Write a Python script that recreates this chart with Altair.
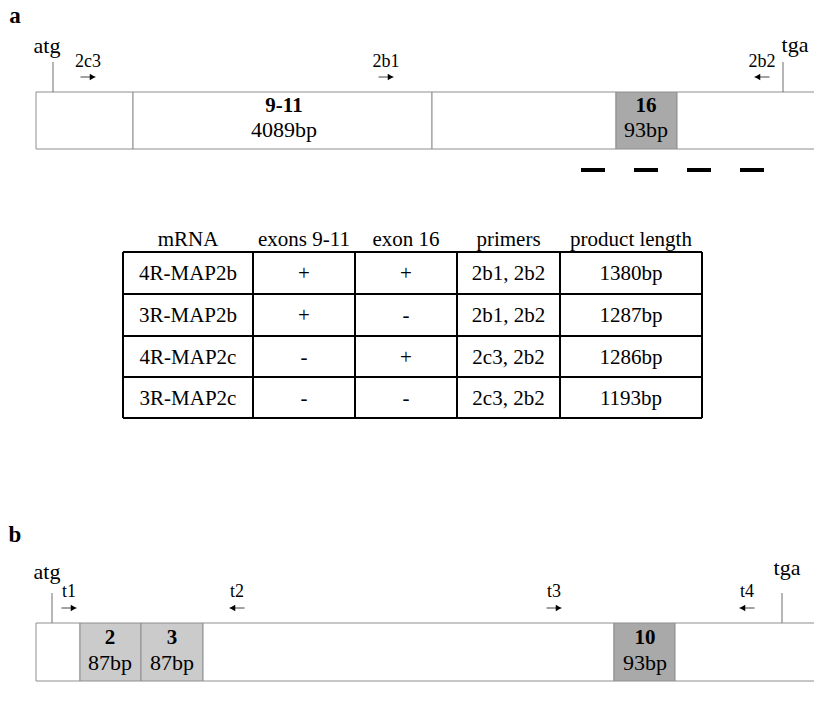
import altair as alt
import pandas as pd

# ---------------- data (schematic units along the maps) ----------------
panel_letters = ["a", "b"]
panel_letter_y = [23, 542]

# gene maps: segment boundaries and kind of each segment
gene_a_edges = [36, 133, 432, 616, 677, 830]
gene_a_kind = ["plain", "plain", "plain", "exon_dark", "plain"]
gene_a_band = [92, 149]
gene_b_edges = [36, 80, 141, 203, 614, 675, 830]
gene_b_kind = ["plain", "exon_light", "exon_light", "plain", "exon_dark", "plain"]
gene_b_band = [623, 681]

# exon labels
exon_a_names = ["9-11", "16"]
exon_a_sizes = ["4089bp", "93bp"]
exon_a_center = [284, 646]
exon_a_rows = [106, 130]
exon_b_names = ["2", "3", "10"]
exon_b_sizes = ["87bp", "87bp", "93bp"]
exon_b_center = [110, 172, 645]
exon_b_rows = [638, 663]

# primers
primer_a_names = ["2c3", "2b1", "2b2"]
primer_a_pos = [88, 386, 762]
primer_a_dir = ["right", "right", "left"]
primer_a_rows = [62, 77]
primer_b_names = ["t1", "t2", "t3", "t4"]
primer_b_pos = [69, 237, 554, 747]
primer_b_dir = ["right", "left", "right", "left"]
primer_b_rows = [592, 608]

# start / stop codons
codon_names = ["atg", "tga"]
codon_a_text_x = [47, 795]
codon_a_text_y = [46, 45]
codon_a_line_x = [53, 783]
codon_a_line_y = [62, 92]
codon_b_text_x = [47, 787]
codon_b_text_y = [572, 568]
codon_b_line_x = [52, 782]
codon_b_line_y = [593, 623]

# probe dashes under the maps
probe_a_start = [581, 634, 687, 740]
probe_a_end = [605, 658, 711, 764]
probe_a_y = 170
probe_b_start = [580, 633, 686, 739]
probe_b_end = [604, 657, 711, 763]
probe_b_y = 701

# table
table_headers = ["mRNA", "exons 9-11", "exon 16", "primers", "product length"]
mrna = ["4R-MAP2b", "3R-MAP2b", "4R-MAP2c", "3R-MAP2c"]
exons_9_11 = ["+", "+", "-", "-"]
exon_16 = ["+", "-", "+", "-"]
primers = ["2b1, 2b2", "2b1, 2b2", "2c3, 2b2", "2c3, 2b2"]
product_length = ["1380bp", "1287bp", "1286bp", "1193bp"]
table_col_edges = [123, 253, 355, 457, 560, 702]
table_row_edges = [252, 294, 336, 377, 418]
table_header_y = 240

# ---------------- helpers ----------------
FONT = "Liberation Serif"
xs = alt.Scale(domain=[8, 814], nice=False, zero=False)
ys = alt.Scale(domain=[8, 695], nice=False, zero=False, reverse=True)


def X(f):
    return alt.X(f, type="quantitative", scale=xs, axis=None)


def Y(f):
    return alt.Y(f, type="quantitative", scale=ys, axis=None)


# gene segments
seg_rows = []
for edges, kinds, band in [(gene_a_edges, gene_a_kind, gene_a_band),
                           (gene_b_edges, gene_b_kind, gene_b_band)]:
    for i, k in enumerate(kinds):
        seg_rows.append(dict(x=edges[i], x2=edges[i + 1], y=band[0], y2=band[1], kind=k))
seg_df = pd.DataFrame(seg_rows)

genes = alt.Chart(seg_df).mark_rect(stroke="#8e8e8e", strokeWidth=1).encode(
    x=X("x"), x2="x2", y=Y("y"), y2="y2",
    fill=alt.Fill("kind:N", legend=None,
                  scale=alt.Scale(domain=["plain", "exon_light", "exon_dark"],
                                  range=["#ffffff", "#cbcbcb", "#a9a9a9"])),
)

# exon labels
ex_rows = []
for names, sizes, cx, rows in [(exon_a_names, exon_a_sizes, exon_a_center, exon_a_rows),
                               (exon_b_names, exon_b_sizes, exon_b_center, exon_b_rows)]:
    for n, s, c in zip(names, sizes, cx):
        ex_rows.append(dict(x=c, y=rows[0], label=n, w="bold"))
        ex_rows.append(dict(x=c, y=rows[1], label=s, w="normal"))
ex_df = pd.DataFrame(ex_rows)
ex_bold = alt.Chart(ex_df[ex_df.w == "bold"]).mark_text(
    font=FONT, fontSize=21, fontWeight="bold", color="black", baseline="middle", align="center"
).encode(x=X("x"), y=Y("y"), text="label:N")
ex_norm = alt.Chart(ex_df[ex_df.w == "normal"]).mark_text(
    font=FONT, fontSize=22, color="black", baseline="middle", align="center"
).encode(x=X("x"), y=Y("y"), text="label:N")

# primers
pr_rows = []
for names, pos, dirs, rows in [(primer_a_names, primer_a_pos, primer_a_dir, primer_a_rows),
                               (primer_b_names, primer_b_pos, primer_b_dir, primer_b_rows)]:
    for n, p, d in zip(names, pos, dirs):
        tip = p + 7.5 if d == "right" else p - 7.5
        tail = p - 7.5 if d == "right" else p + 7.5
        head = tip - 3 if d == "right" else tip + 3
        pr_rows.append(dict(label=n, lx=p, ly=rows[0], ay=rows[1], tail=tail, tip=tip,
                            head=head, shape="triangle-" + d))
pr_df = pd.DataFrame(pr_rows)
pr_text = alt.Chart(pr_df).mark_text(
    font=FONT, fontSize=18, color="black", baseline="middle", align="center"
).encode(x=X("lx"), y=Y("ly"), text="label:N")
pr_shaft = alt.Chart(pr_df).mark_rule(color="#444444", strokeWidth=1).encode(
    x=X("tail"), x2="tip", y=Y("ay"))
pr_head = alt.Chart(pr_df).mark_point(filled=True, size=40, color="black", opacity=1).encode(
    x=X("head"), y=Y("ay"), shape=alt.Shape("shape:N", scale=None))

# codons
cd_rows = []
for tx, ty, lx, ly in [(codon_a_text_x, codon_a_text_y, codon_a_line_x, codon_a_line_y),
                       (codon_b_text_x, codon_b_text_y, codon_b_line_x, codon_b_line_y)]:
    for n, a, b, c in zip(codon_names, tx, ty, lx):
        cd_rows.append(dict(label=n, tx=a, ty=b, lx=c, y1=ly[0], y2=ly[1]))
cd_df = pd.DataFrame(cd_rows)
cd_text = alt.Chart(cd_df).mark_text(
    font=FONT, fontSize=22, color="black", baseline="middle", align="center"
).encode(x=X("tx"), y=Y("ty"), text="label:N")
cd_line = alt.Chart(cd_df).mark_rule(color="#6e6e6e", strokeWidth=1).encode(
    x=X("lx"), y=Y("y1"), y2="y2")

# probes
pb_rows = []
for s, e, yy in [(probe_a_start, probe_a_end, probe_a_y), (probe_b_start, probe_b_end, probe_b_y)]:
    for a, b in zip(s, e):
        pb_rows.append(dict(x=a, x2=b, y=yy))
pb_df = pd.DataFrame(pb_rows)
probes = alt.Chart(pb_df).mark_rule(color="black", strokeWidth=4).encode(
    x=X("x"), x2="x2", y=Y("y"))

# table
hl = pd.DataFrame([dict(x=table_col_edges[0], x2=table_col_edges[-1], y=r) for r in table_row_edges])
vl = pd.DataFrame([dict(x=c, y=table_row_edges[0], y2=table_row_edges[-1]) for c in table_col_edges])
t_h = alt.Chart(hl).mark_rule(color="black", strokeWidth=2).encode(x=X("x"), x2="x2", y=Y("y"))
t_v = alt.Chart(vl).mark_rule(color="black", strokeWidth=2).encode(x=X("x"), y=Y("y"), y2="y2")

col_centers = [(table_col_edges[i] + table_col_edges[i + 1]) / 2 for i in range(len(table_headers))]
row_centers = [(table_row_edges[i] + table_row_edges[i + 1]) / 2 + 1 for i in range(len(mrna))]
head_df = pd.DataFrame(dict(x=col_centers, y=[table_header_y] * len(table_headers), label=table_headers))
cells = []
for ci, col in enumerate([mrna, exons_9_11, exon_16, primers, product_length]):
    for ri, v in enumerate(col):
        cells.append(dict(x=col_centers[ci], y=row_centers[ri], label=v))
cell_df = pd.DataFrame(cells)
t_head = alt.Chart(head_df).mark_text(
    font=FONT, fontSize=21, color="black", baseline="middle", align="center"
).encode(x=X("x"), y=Y("y"), text="label:N")
t_cell = alt.Chart(cell_df).mark_text(
    font=FONT, fontSize=21, color="black", baseline="middle", align="center"
).encode(x=X("x"), y=Y("y"), text="label:N")

# panel letters
let_df = pd.DataFrame(dict(x=[15, 15], y=panel_letter_y, label=panel_letters))
letters = alt.Chart(let_df).mark_text(
    font=FONT, fontSize=23, fontWeight="bold", color="black", baseline="alphabetic", align="center"
).encode(x=X("x"), y=Y("y"), text="label:N")

chart = alt.layer(
    genes, ex_bold, ex_norm, pr_shaft, pr_head, pr_text, cd_line, cd_text, probes,
    t_h, t_v, t_head, t_cell, letters
).properties(
    width=806, height=687, padding=0, autosize=alt.AutoSizeParams(type="none")
).configure_view(stroke=None)

chart.save("out.html", embed_options={"renderer": "svg", "actions": False})
